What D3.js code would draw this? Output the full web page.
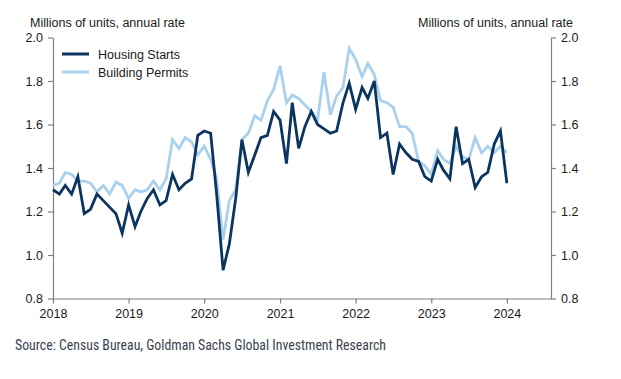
<!DOCTYPE html>
<html>
<head>
<meta charset="utf-8">
<script src="https://cdn.jsdelivr.net/npm/d3@7"></script>
<style>
  body { margin: 0; background: #fff; }
  svg { display: block; font-family: "Liberation Sans", Arial, sans-serif; }
</style>
</head>
<body>
<div class="center"></div>
<script>
// monthly values, Jan 2018 .. Jan 2024 (millions of units, SAAR)
var startMonth = "2018-01";
var housingStarts = [
  1.30, 1.28, 1.32, 1.28, 1.36, 1.19, 1.21, 1.28, 1.25, 1.22, 1.19, 1.10,
  1.23, 1.13, 1.20, 1.26, 1.30, 1.23, 1.25, 1.37, 1.30, 1.33, 1.35, 1.55,
  1.57, 1.56, 1.28, 0.93, 1.05, 1.26, 1.53, 1.38, 1.46, 1.54, 1.55, 1.66,
  1.62, 1.42, 1.70, 1.49, 1.59, 1.66, 1.60, 1.58, 1.56, 1.57, 1.70, 1.79,
  1.67, 1.77, 1.72, 1.80, 1.54, 1.56, 1.37, 1.51, 1.47, 1.44, 1.43, 1.36,
  1.34, 1.44, 1.39, 1.35, 1.59, 1.42, 1.44, 1.31, 1.36, 1.38, 1.51, 1.57,
  1.33
];
var buildingPermits = [
  1.32, 1.33, 1.38, 1.37, 1.34, 1.34, 1.33, 1.29, 1.32, 1.28, 1.335, 1.32,
  1.26, 1.30, 1.29, 1.30, 1.34, 1.30, 1.35, 1.53, 1.49, 1.54, 1.52, 1.46,
  1.50, 1.44, 1.35, 1.07, 1.25, 1.30, 1.53, 1.56, 1.64, 1.62, 1.71, 1.76,
  1.87, 1.70, 1.735, 1.72, 1.69, 1.66, 1.62, 1.84, 1.645, 1.73, 1.77, 1.95,
  1.90, 1.82, 1.88, 1.83, 1.71, 1.70, 1.68, 1.59, 1.59, 1.56, 1.43, 1.41,
  1.37, 1.48, 1.44, 1.42, 1.50, 1.45, 1.44, 1.54, 1.47, 1.50, 1.47, 1.50,
  1.47
];
var yTicks = [0.8, 1.0, 1.2, 1.4, 1.6, 1.8, 2.0];
var xTickYears = [2018, 2019, 2020, 2021, 2022, 2023, 2024];
var seriesNames = ["Housing Starts", "Building Permits"];
var seriesColors = ["#0b3560", "#a9d1ee"];
var axisTitle = "Millions of units, annual rate";
var sourceText = "Source: Census Bureau, Goldman Sachs Global Investment Research";

var W = 621, H = 379;
var plot = {left: 53, right: 551, top: 37.5, bottom: 298.5};

var parseMonth = d3.timeParse("%Y-%m");
var t0 = parseMonth(startMonth);
function toRows(values) {
  return values.map(function(v, i) { return { date: d3.timeMonth.offset(t0, i), value: v }; });
}

var x = d3.scaleTime()
  .domain([new Date(2018, 0, 1), new Date(2024, 7, 1)])
  .range([plot.left, plot.right]);
var y = d3.scaleLinear().domain([0.8, 2.0]).range([plot.bottom, plot.top]);

var svg = d3.select(".center").append("svg")
  .attr("width", W)
  .attr("height", H);

var axisColor = "#808080";

function styleAxis(g) {
  g.select(".domain").attr("stroke", axisColor).attr("stroke-width", 1.2);
  g.selectAll(".tick line").attr("stroke", axisColor).attr("stroke-width", 1.2);
  g.selectAll(".tick text")
    .attr("fill", "#1a1a1a")
    .attr("font-size", "12.5px")
    .attr("font-family", "'Liberation Sans', Arial, sans-serif");
}

// x axis
svg.append("g")
  .attr("transform", "translate(0," + plot.bottom + ")")
  .call(d3.axisBottom(x)
    .tickValues(xTickYears.map(function(yr) { return new Date(yr, 0, 1); }))
    .tickFormat(d3.timeFormat("%Y"))
    .tickSize(5).tickSizeOuter(0).tickPadding(6))
  .call(styleAxis);

// left y axis
svg.append("g")
  .attr("transform", "translate(" + plot.left + ",0)")
  .call(d3.axisLeft(y).tickValues(yTicks).tickFormat(d3.format(".1f"))
    .tickSize(5).tickSizeOuter(0).tickPadding(5))
  .call(styleAxis);

// right y axis
svg.append("g")
  .attr("transform", "translate(" + plot.right + ",0)")
  .call(d3.axisRight(y).tickValues(yTicks).tickFormat(d3.format(".1f"))
    .tickSize(5).tickSizeOuter(0).tickPadding(5))
  .call(styleAxis);

// lines
var line = d3.line()
  .x(function(d) { return x(d.date); })
  .y(function(d) { return y(d.value); });

// permits drawn first so starts sit on top
svg.append("path")
  .datum(toRows(buildingPermits))
  .attr("fill", "none")
  .attr("stroke", seriesColors[1])
  .attr("stroke-width", 2.8)
  .attr("d", line);

svg.append("path")
  .datum(toRows(housingStarts))
  .attr("fill", "none")
  .attr("stroke", seriesColors[0])
  .attr("stroke-width", 2.8)
  .attr("d", line);

// axis titles
svg.append("text")
  .attr("x", 30).attr("y", 27)
  .attr("font-size", "12.5px").attr("fill", "#1a1a1a")
  .text(axisTitle);

svg.append("text")
  .attr("x", 573).attr("y", 27)
  .attr("text-anchor", "end")
  .attr("font-size", "12.5px").attr("fill", "#1a1a1a")
  .text(axisTitle);

// legend
var legend = svg.append("g").attr("transform", "translate(62,54)");
seriesNames.forEach(function(name, i) {
  legend.append("line")
    .attr("x1", 0).attr("x2", 27)
    .attr("y1", i * 18).attr("y2", i * 18)
    .attr("stroke", seriesColors[i])
    .attr("stroke-width", 3);
  legend.append("text")
    .attr("x", 36).attr("y", i * 18 + 4.5)
    .attr("font-size", "12.5px").attr("fill", "#1a1a1a")
    .text(name);
});

// source
svg.append("text")
  .attr("x", 15).attr("y", 350)
  .attr("font-size", "15px")
  .attr("font-family", "'Liberation Sans Narrow', 'Roboto Condensed', 'DejaVu Sans Condensed', sans-serif")
  .attr("fill", "#3a4250")
  .attr("textLength", 371)
  .attr("lengthAdjust", "spacingAndGlyphs")
  .text(sourceText);
</script>
</body>
</html>
